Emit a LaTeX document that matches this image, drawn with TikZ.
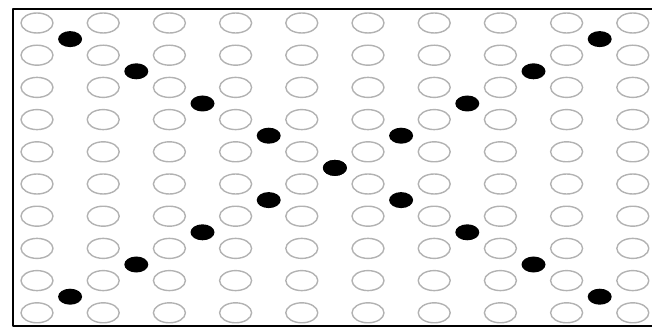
\documentclass[tikz,border=0pt]{standalone}
\begin{document}
\begin{tikzpicture}[x=1pt,y=-1pt,line join=round,line cap=round,
  peg/.style={draw=gray!60,line width=1.4pt},
  bead/.style={fill=black}]
\useasboundingbox (0,0) rectangle (652,328);
\path
(13,9) coordinate (TL)
(652,9) coordinate (TR)
(13,326) coordinate (BL)
(652,326) coordinate (BR)
;
\draw[line width=2.8pt,line cap=butt] (TR)--(TL)--(BL)--(BR);
\foreach \i in {0,...,9}
\foreach \j in {0,...,9}
\draw[peg] (37+66.2*\i,23+32.2*\j) ellipse (16pt and 10pt);
\foreach \k in {0,...,8}{
\fill[bead] (70.1+66.2*\k,39.1+32.2*\k) ellipse (12pt and 8pt);
\fill[bead] (70.1+66.2*\k,296.7-32.2*\k) ellipse (12pt and 8pt);
}
\end{tikzpicture}
\end{document}
